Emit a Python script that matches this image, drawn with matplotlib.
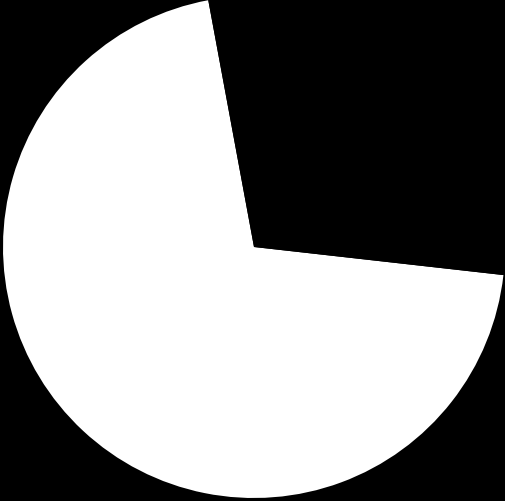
import matplotlib
matplotlib.use("Agg")
import matplotlib.pyplot as plt

# slice shares (white part vs. the black gap)
labels = ["filled", "gap"]
values = [70.3, 29.7]
colors = ["white", "black"]


def main():
    fig = plt.figure(figsize=(5.05, 5.02), dpi=100, facecolor="black")
    # circle centre at about (254, 254) px from the bottom left, radius about 251 px
    ax = fig.add_axes([3 / 505, 3 / 502, 502 / 505, 502 / 502])
    ax.set_facecolor("black")
    ax.pie(values, colors=colors, startangle=100.5, counterclock=True,
           radius=1.0, wedgeprops=dict(linewidth=0, antialiased=True))
    ax.set_xlim(-1, 1)
    ax.set_ylim(-1, 1)
    ax.axis("off")
    fig.savefig("out.png", dpi=100, facecolor="black")


if __name__ == '__main__':
    main()
